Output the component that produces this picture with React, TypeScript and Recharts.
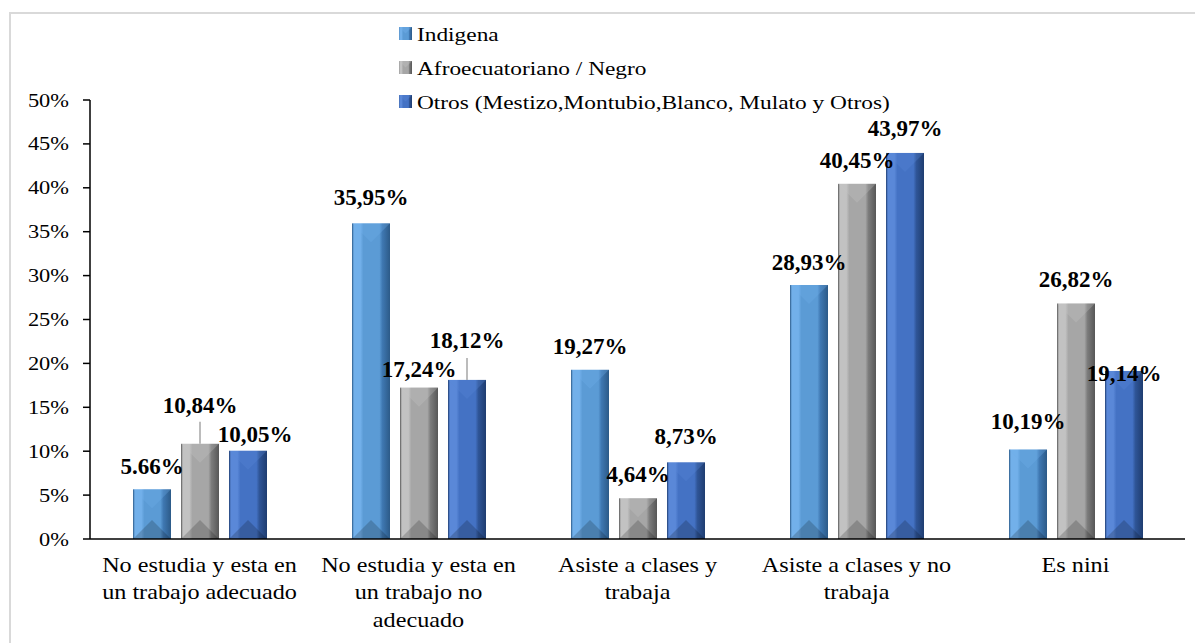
import React from "react";
import { BarChart, Bar, XAxis, YAxis, LabelList } from "recharts";

// line breaks follow the reference's wrapping
const categories = [
  "No estudia y esta en\nun trabajo adecuado",
  "No estudia y esta en\nun trabajo no\nadecuado",
  "Asiste a clases y\ntrabaja",
  "Asiste a clases y no\ntrabaja",
  "Es nini",
];
const indigena = [5.66, 35.95, 19.27, 28.93, 10.19];
const afro = [10.84, 17.24, 4.64, 40.45, 26.82];
const otros = [10.05, 18.12, 8.73, 43.97, 19.14];
// the source writes the first Indigena label with a point, all the rest with a comma
const indigenaMark = [".", ",", ",", ",", ","];
const afroMark = [",", ",", ",", ",", ","];
const otrosMark = [",", ",", ",", ",", ","];
const yTicks = [0, 5, 10, 15, 20, 25, 30, 35, 40, 45, 50];
const seriesNames = [
  "Indigena",
  "Afroecuatoriano / Negro",
  "Otros (Mestizo,Montubio,Blanco, Mulato y Otros)",
];

const data = categories.map((name, i) => ({
  name,
  indigena: indigena[i],
  afro: afro[i],
  otros: otros[i],
}));

const SERIF = "'Liberation Serif', 'Times New Roman', serif";
const SX = 1.18; // the reference text is a little stretched sideways

const PAL: Record<string, { light: string; main: string; dark: string; edge: string }> = {
  indigena: { light: "#72b0ea", main: "#5b9bd5", dark: "#3f78b2", edge: "#2c5a88" },
  afro: { light: "#c2c2c2", main: "#a6a6a6", dark: "#7c7c7c", edge: "#575757" },
  otros: { light: "#5a88d8", main: "#4472c4", dark: "#2f5597", edge: "#1f3d70" },
};

// label nudges [dx, dy] away from the default spot above the bar, as placed in the source
const NUDGE: Record<string, number[][]> = {
  indigena: [[0, 2], [0, -1], [0, 1], [0, 2], [0, -4]],
  afro: [[0, -14], [0, 6], [0, 1], [0, 1], [0, 0]],
  otros: [[7, 8], [0, -15], [0, -1], [0, 0], [0, 27]],
};
const LEADER: Record<string, boolean[]> = {
  indigena: [false, false, false, false, false],
  afro: [true, false, false, false, false],
  otros: [false, true, false, false, false],
};

function Gradients() {
  return (
    <svg width={0} height={0} style={{ position: "absolute" }}>
      <defs>
        {Object.keys(PAL).map((k) => (
          <linearGradient key={k} id={`g-${k}`} x1="0" y1="0" x2="1" y2="0">
            <stop offset="0" stopColor={PAL[k].edge} />
            <stop offset="0.05" stopColor={PAL[k].light} />
            <stop offset="0.22" stopColor={PAL[k].light} />
            <stop offset="0.3" stopColor={PAL[k].main} />
            <stop offset="0.72" stopColor={PAL[k].main} />
            <stop offset="0.8" stopColor={PAL[k].dark} />
            <stop offset="1" stopColor={PAL[k].edge} />
          </linearGradient>
        ))}
      </defs>
    </svg>
  );
}

function BevelBar(props: any) {
  const { x, y, width: w, height: h, series } = props;
  if (!h || h <= 0) return null;
  const b = Math.min(w / 2, h / 2);
  return (
    <g>
      <rect x={x} y={y} width={w} height={h} fill={`url(#g-${series})`} />
      <polygon
        points={`${x},${y} ${x + w},${y} ${x + w / 2},${y + b}`}
        fill={PAL[series].light}
        opacity={0.3}
      />
      <polygon
        points={`${x},${y + h} ${x + w},${y + h} ${x + w / 2},${y + h - b}`}
        fill="#000"
        opacity={0.18}
      />
    </g>
  );
}

function makeLabel(series: string, marks: string[]) {
  return (props: any) => {
    const vb = props.viewBox && props.viewBox.x != null ? props.viewBox : props;
    const { x, y, width } = vb;
    const i = props.index;
    const v = Number(props.value);
    const [dx, dy] = NUDGE[series][i];
    const cx = x + width / 2;
    const cy = y - 25 + dy;
    return (
      <g>
        {LEADER[series][i] && (
          <line x1={cx} y1={y} x2={cx} y2={y - 22} stroke="#a6a6a6" strokeWidth={1.5} />
        )}
        <text
          x={cx + dx}
          y={cy + 8}
          textAnchor="middle"
          fontFamily={SERIF}
          fontWeight="bold"
          fontSize={23}
          fill="#000"
        >
          {v.toFixed(2).replace(".", marks[i]) + "%"}
        </text>
      </g>
    );
  };
}

function YTick(props: any) {
  const { x, y, payload } = props;
  return (
    <text
      transform={`translate(${x},${y + 6.5}) scale(${SX},1)`}
      textAnchor="end"
      fontFamily={SERIF}
      fontSize={19}
      fill="#000"
    >
      {payload.value}%
    </text>
  );
}

function CatTick(props: any) {
  const { x, y, payload } = props;
  const lines = String(payload.value).split("\n");
  return (
    <g transform={`translate(${x},${y + 33}) scale(${SX},1)`}>
      <text textAnchor="middle" fontFamily={SERIF} fontSize={20.5} fill="#000">
        {lines.map((ln, i) => (
          <tspan key={i} x={0} y={i * 27.5}>
            {ln}
          </tspan>
        ))}
      </text>
    </g>
  );
}

function LegendBox() {
  const keys = ["indigena", "afro", "otros"];
  return (
    <svg
      width={1195}
      height={643}
      style={{ position: "absolute", left: 0, top: 0, pointerEvents: "none" }}
    >
      {keys.map((k, i) => {
        const base = 41 + i * 34;
        const ix = 399;
        const iy = base - 14;
        return (
          <g key={k}>
            <rect x={ix} y={iy} width={13} height={13} fill={`url(#g-${k})`} />
            <polygon
              points={`${ix},${iy} ${ix + 13},${iy} ${ix + 6.5},${iy + 6.5}`}
              fill={PAL[k].light}
              opacity={0.4}
            />
            <text
              transform={`translate(417,${base}) scale(${SX},1)`}
              fontFamily={SERIF}
              fontSize={19.8}
              fill="#000"
            >
              {seriesNames[i]}
            </text>
          </g>
        );
      })}
    </svg>
  );
}

export default function App() {
  return (
    <div
      style={{
        position: "absolute",
        left: 0,
        top: 0,
        width: 1195,
        height: 643,
        overflow: "hidden",
        background: "#fff",
      }}
    >
      <Gradients />
      <div
        style={{
          position: "absolute",
          left: 9,
          top: 12,
          width: 1300,
          height: 800,
          border: "2px solid #d9d9d9",
        }}
      />
      <div style={{ position: "absolute", left: 0, top: 0 }}>
        <BarChart
          width={1195}
          height={643}
          data={data}
          margin={{ top: 100, right: 10, bottom: 0, left: 0 }}
          barSize={38}
          barGap={10}
        >
          <XAxis
            dataKey="name"
            height={104}
            axisLine={{ stroke: "#000", strokeWidth: 1.5 }}
            tickLine={false}
            tickSize={0}
            tickMargin={0}
            interval={0}
            tick={<CatTick />}
          />
          <YAxis
            width={90}
            domain={[0, 50]}
            ticks={yTicks}
            interval={0}
            axisLine={{ stroke: "#000", strokeWidth: 1.5 }}
            tickLine={{ stroke: "#000", strokeWidth: 1.5 }}
            tickSize={7}
            tickMargin={14}
            tick={<YTick />}
          />
          <Bar
            dataKey="indigena"
            isAnimationActive={false}
            shape={(p: any) => <BevelBar {...p} series="indigena" />}
          >
            <LabelList dataKey="indigena" content={makeLabel("indigena", indigenaMark)} />
          </Bar>
          <Bar
            dataKey="afro"
            isAnimationActive={false}
            shape={(p: any) => <BevelBar {...p} series="afro" />}
          >
            <LabelList dataKey="afro" content={makeLabel("afro", afroMark)} />
          </Bar>
          <Bar
            dataKey="otros"
            isAnimationActive={false}
            shape={(p: any) => <BevelBar {...p} series="otros" />}
          >
            <LabelList dataKey="otros" content={makeLabel("otros", otrosMark)} />
          </Bar>
        </BarChart>
      </div>
      <LegendBox />
    </div>
  );
}
